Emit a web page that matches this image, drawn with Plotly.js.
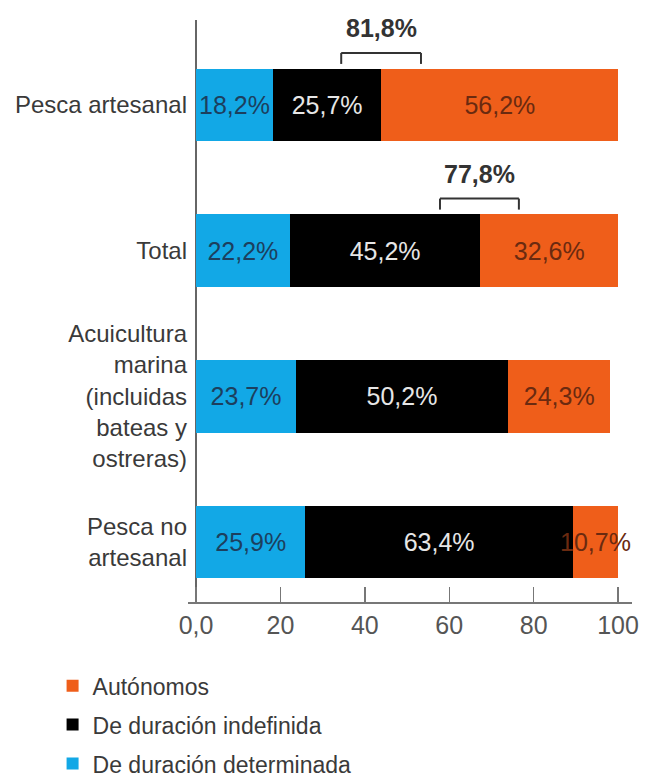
<!DOCTYPE html>
<html>
<head>
<meta charset="utf-8">
<script src="https://cdn.plot.ly/plotly-3.0.1.min.js"></script>
<style>
  html, body { margin: 0; padding: 0; background: #ffffff; }
  #chart { width: 652px; height: 783px; }
</style>
</head>
<body>
<div id="chart"></div>
<script>
// ---- Data ----
const categories = ['Pesca artesanal', 'Total', 'Acuicultura marina (incluidas bateas y ostreras)', 'Pesca no artesanal'];
const categoryLabels = ['Pesca artesanal', 'Total', 'Acuicultura<br>marina<br>(incluidas<br>bateas y<br>ostreras)', 'Pesca no<br>artesanal'];
const seriesNames = ['De duración determinada', 'De duración indefinida', 'Autónomos'];
const determinada = [18.2, 22.2, 23.7, 25.9];
const indefinida = [25.7, 45.2, 50.2, 63.4];
const autonomos = [56.2, 32.6, 24.3, 10.7];
const xTickValues = [0, 20, 40, 60, 80, 100];
const xTickLabels = ['0,0', '20', '40', '60', '80', '100'];
const bracketRows = ['Pesca artesanal', 'Total'];
const bracketLabels = ['81,8%', '77,8%'];
const bracketFrom = [34.4, 57.8];
const bracketTo = [53.3, 76.5];

// ---- Styling ----
const FAMILY = '"Liberation Sans", Arial, sans-serif';
const font = (size, color, weight) => ({ family: FAMILY, size: size, color: color, weight: weight || 'normal' });
const colors = ['#12A8E6', '#000000', '#EF5E1A'];
const textColors = ['#1C3F5E', '#E6E6E6', '#6A2A10'];
const fmt = v => v.toFixed(1).replace('.', ',') + '%';

const seriesValues = [determinada, indefinida, autonomos];
const traces = seriesValues.map((vals, i) => ({
  type: 'bar',
  orientation: 'h',
  name: seriesNames[i],
  legendgroup: 'g' + i,
  legendrank: 1000 - i,
  x: vals,
  y: categories,
  marker: { color: colors[i], line: { width: 0 } },
  text: vals.map(fmt),
  textposition: 'inside',
  insidetextanchor: 'middle',
  textangle: 0,
  constraintext: 'none',
  textfont: font(25, textColors[i]),
  cliponaxis: false,
  hoverinfo: 'none'
}));

const shapes = [];
const annotations = [];
bracketRows.forEach((row, i) => {
  const base = { type: 'line', xref: 'x', yref: 'y', ysizemode: 'pixel', yanchor: row,
                 line: { color: '#333333', width: 2 } };
  shapes.push(Object.assign({}, base, { x0: bracketFrom[i], x1: bracketTo[i], y0: 52, y1: 52 }));
  shapes.push(Object.assign({}, base, { x0: bracketFrom[i], x1: bracketFrom[i], y0: 41, y1: 52 }));
  shapes.push(Object.assign({}, base, { x0: bracketTo[i], x1: bracketTo[i], y0: 41, y1: 52 }));
  annotations.push({
    xref: 'x', yref: 'y',
    x: (bracketFrom[i] + bracketTo[i]) / 2, y: row,
    yshift: 77,
    text: '<b>' + bracketLabels[i] + '</b>',
    showarrow: false,
    font: font(25, '#333333', 'bold'),
    xanchor: 'center', yanchor: 'middle'
  });
});

const layout = {
  width: 652,
  height: 783,
  margin: { l: 188, r: 20, t: 20, b: 181, autoexpand: false },
  paper_bgcolor: '#ffffff',
  plot_bgcolor: '#ffffff',
  barmode: 'stack',
  bargap: 0.5,
  showlegend: true,
  legend: {
    traceorder: 'grouped',
    tracegroupgap: 6,
    x: -0.305, y: -0.107, xanchor: 'left', yanchor: 'top',
    font: font(23, '#3a3a3a'),
    bgcolor: 'rgba(0,0,0,0)'
  },
  xaxis: {
    range: [-1.9, 103.3],
    showgrid: false,
    zeroline: true, zerolinecolor: '#666666', zerolinewidth: 1.5,
    showline: true, linecolor: '#777777', linewidth: 1.5,
    ticks: 'inside', ticklen: 15, tickwidth: 1.5, tickcolor: '#777777',
    tickmode: 'array', tickvals: xTickValues, ticktext: xTickLabels,
    tickfont: font(25, '#555555'),
    fixedrange: true
  },
  yaxis: {
    type: 'category',
    categoryorder: 'array',
    categoryarray: categories.slice().reverse(),
    range: [-0.412, 3.583],
    showgrid: false, zeroline: false, showline: false,
    ticks: '',
    tickmode: 'array', tickvals: categories, ticktext: categoryLabels,
    tickfont: font(24, '#3a3a3a'),
    fixedrange: true
  },
  shapes: shapes,
  annotations: annotations
};

Plotly.newPlot('chart', traces, layout, { displayModeBar: false, staticPlot: true });
</script>
</body>
</html>
